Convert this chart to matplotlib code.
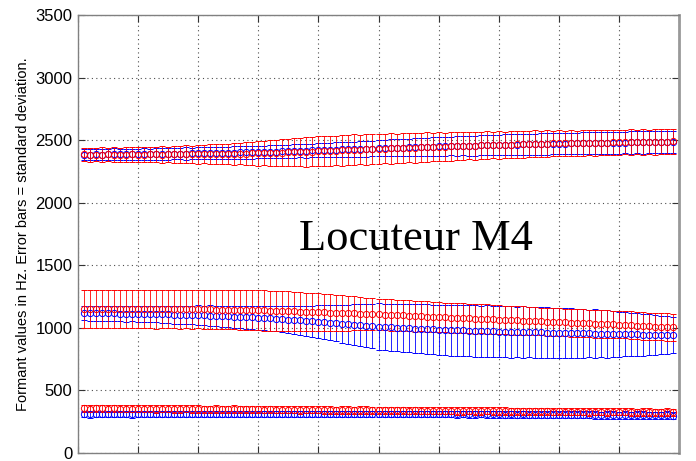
import numpy as np
import matplotlib
matplotlib.use("Agg")
import matplotlib.pyplot as plt

plt.rcParams['font.family'] = ['Liberation Sans', 'DejaVu Sans']

frames = list(range(1, 100))

# Formant 3 (top band)
f3_blue_mean = [2385, 2384, 2386, 2385, 2386, 2387, 2386, 2387, 2388, 2388,
                2389, 2389, 2390, 2391, 2391, 2392, 2393, 2393, 2394, 2395,
                2396, 2397, 2398, 2399, 2400, 2401, 2402, 2403, 2404, 2405,
                2406, 2408, 2409, 2411, 2412, 2414, 2415, 2417, 2418, 2420,
                2421, 2423, 2424, 2426, 2427, 2429, 2430, 2432, 2433, 2435,
                2437, 2438, 2440, 2441, 2443, 2444, 2446, 2447, 2449, 2450,
                2451, 2453, 2454, 2455, 2456, 2457, 2459, 2460, 2461, 2462,
                2463, 2464, 2465, 2466, 2467, 2468, 2469, 2470, 2471, 2472,
                2473, 2474, 2474, 2475, 2476, 2477, 2477, 2478, 2479, 2480,
                2481, 2482, 2482, 2483, 2484, 2485, 2486, 2487, 2488]
f3_blue_std = [44, 46, 45, 43, 45, 47, 44, 46, 45, 45,
               46, 44, 47, 46, 48, 45, 47, 49, 46, 48,
               47, 49, 48, 50, 47, 51, 49, 50, 52, 50,
               51, 53, 50, 54, 52, 55, 53, 56, 54, 55,
               57, 56, 59, 58, 61, 60, 62, 64, 63, 65,
               66, 68, 67, 70, 69, 71, 73, 72, 74, 75,
               76, 75, 78, 77, 79, 80, 79, 81, 82, 82,
               83, 82, 84, 83, 85, 84, 86, 85, 84, 85,
               86, 87, 85, 87, 88, 86, 88, 87, 89, 88,
               87, 89, 88, 90, 87, 89, 88, 89, 88]
f3_red_mean = [2386, 2385, 2384, 2385, 2386, 2385, 2384, 2385, 2386, 2385,
               2385, 2386, 2386, 2385, 2386, 2387, 2387, 2388, 2387, 2388,
               2389, 2389, 2390, 2390, 2391, 2392, 2392, 2393, 2394, 2395,
               2396, 2397, 2399, 2400, 2402, 2403, 2405, 2406, 2408, 2410,
               2412, 2414, 2416, 2418, 2420, 2422, 2424, 2426, 2428, 2430,
               2432, 2434, 2436, 2438, 2440, 2441, 2443, 2445, 2446, 2448,
               2449, 2451, 2452, 2454, 2455, 2456, 2458, 2459, 2461, 2462,
               2463, 2465, 2466, 2467, 2468, 2470, 2471, 2472, 2474, 2475,
               2476, 2477, 2477, 2478, 2479, 2480, 2481, 2481, 2482, 2483,
               2484, 2484, 2485, 2486, 2487, 2487, 2488, 2489, 2490]
f3_red_std = [54, 56, 53, 57, 55, 58, 56, 59, 57, 60,
              58, 62, 60, 65, 63, 68, 66, 72, 70, 75,
              74, 79, 77, 83, 81, 88, 86, 93, 91, 100,
              98, 104, 102, 109, 106, 113, 110, 117, 115, 120,
              118, 123, 116, 121, 119, 124, 117, 122, 118, 120,
              117, 121, 115, 119, 116, 120, 114, 118, 113, 115,
              112, 116, 110, 114, 109, 113, 108, 112, 107, 110,
              106, 110, 105, 109, 104, 108, 103, 107, 102, 105,
              101, 105, 100, 104, 99, 103, 98, 102, 99, 100,
              98, 102, 99, 101, 98, 102, 99, 101, 100]

# Formant 2 (middle band)
f2_blue_mean = [1118, 1117, 1117, 1116, 1116, 1115, 1114, 1114, 1113, 1112,
                1111, 1110, 1109, 1108, 1107, 1106, 1105, 1103, 1102, 1100,
                1099, 1097, 1095, 1093, 1091, 1089, 1087, 1085, 1083, 1080,
                1078, 1075, 1072, 1069, 1066, 1063, 1060, 1057, 1054, 1050,
                1046, 1042, 1038, 1034, 1030, 1026, 1022, 1018, 1014, 1010,
                1007, 1004, 1001, 999, 996, 994, 992, 990, 987, 985,
                983, 982, 980, 979, 977, 976, 974, 973, 971, 970,
                969, 968, 967, 966, 965, 964, 963, 962, 961, 960,
                959, 958, 957, 956, 955, 954, 953, 952, 951, 950,
                949, 948, 947, 946, 945, 944, 943, 942, 941]
f2_blue_std = [58, 61, 59, 62, 60, 63, 61, 64, 62, 65,
               64, 67, 66, 70, 68, 72, 71, 75, 74, 80,
               78, 82, 80, 85, 83, 88, 86, 91, 89, 95,
               96, 101, 100, 106, 107, 113, 115, 121, 124, 130,
               134, 141, 145, 152, 156, 163, 167, 174, 178, 185,
               186, 190, 189, 193, 192, 196, 195, 199, 198, 200,
               199, 203, 201, 205, 202, 206, 203, 207, 204, 205,
               203, 207, 202, 206, 201, 205, 200, 204, 199, 200,
               197, 199, 194, 196, 191, 193, 188, 189, 184, 180,
               177, 174, 170, 167, 163, 159, 155, 150, 145]
f2_red_mean = [1150, 1151, 1150, 1151, 1150, 1150, 1151, 1150, 1150, 1150,
               1150, 1150, 1149, 1150, 1149, 1149, 1148, 1149, 1148, 1148,
               1147, 1147, 1146, 1146, 1145, 1144, 1143, 1142, 1141, 1140,
               1139, 1137, 1136, 1134, 1133, 1131, 1130, 1128, 1127, 1125,
               1123, 1122, 1120, 1118, 1117, 1115, 1113, 1111, 1110, 1108,
               1106, 1104, 1101, 1099, 1097, 1094, 1092, 1090, 1087, 1085,
               1083, 1081, 1079, 1077, 1075, 1073, 1071, 1069, 1067, 1065,
               1063, 1061, 1059, 1057, 1055, 1053, 1051, 1049, 1047, 1045,
               1043, 1041, 1039, 1037, 1035, 1033, 1031, 1029, 1027, 1025,
               1023, 1020, 1018, 1015, 1013, 1010, 1008, 1005, 1003]
f2_red_std = [152, 154, 153, 155, 152, 154, 153, 155, 152, 153,
              154, 152, 155, 153, 154, 152, 155, 153, 154, 153,
              155, 154, 156, 157, 158, 157, 159, 160, 159, 160,
              161, 159, 160, 158, 159, 156, 157, 154, 155, 152,
              150, 147, 145, 142, 139, 136, 133, 130, 128, 125,
              124, 126, 123, 125, 122, 124, 121, 123, 120, 121,
              119, 121, 118, 120, 117, 119, 116, 118, 115, 116,
              114, 116, 113, 115, 112, 114, 111, 113, 111, 112,
              110, 113, 109, 112, 110, 111, 109, 112, 109, 110,
              108, 111, 107, 110, 108, 109, 107, 110, 108]

# Formant 1 (bottom band)
f1_blue_mean = [310, 309, 311, 310, 309, 310, 311, 310, 309, 310,
                311, 310, 310, 311, 310, 309, 310, 311, 310, 310,
                311, 310, 311, 312, 311, 312, 311, 312, 313, 312,
                313, 312, 313, 314, 313, 314, 313, 314, 313, 314,
                313, 314, 313, 314, 313, 312, 313, 312, 313, 312,
                311, 312, 311, 312, 311, 310, 311, 310, 311, 310,
                309, 310, 309, 310, 309, 308, 309, 308, 309, 308,
                307, 308, 307, 308, 307, 306, 307, 306, 305, 306,
                305, 306, 305, 304, 305, 304, 303, 304, 303, 302,
                303, 302, 301, 302, 301, 300, 301, 300, 299]
f1_blue_std = [24, 26, 25, 23, 25, 26, 24, 25, 26, 24,
               25, 24, 26, 25, 23, 25, 26, 24, 25, 26,
               24, 25, 26, 25, 24, 26, 25, 24, 25, 26,
               25, 24, 26, 25, 24, 25, 26, 24, 25, 24,
               26, 25, 24, 25, 26, 24, 25, 26, 25, 24,
               25, 26, 24, 25, 26, 25, 24, 26, 25, 26,
               25, 24, 26, 25, 27, 26, 25, 27, 26, 25,
               27, 26, 25, 27, 26, 28, 27, 26, 28, 27,
               28, 27, 29, 28, 27, 29, 28, 30, 29, 28,
               30, 29, 31, 30, 29, 31, 30, 32, 31]
f1_red_mean = [356, 355, 357, 356, 355, 356, 355, 354, 355, 354,
               355, 354, 353, 354, 353, 352, 353, 352, 351, 352,
               351, 350, 351, 350, 349, 350, 349, 348, 349, 348,
               347, 348, 347, 346, 347, 346, 345, 346, 345, 344,
               345, 344, 343, 344, 343, 342, 343, 342, 341, 342,
               341, 340, 341, 340, 339, 340, 339, 338, 339, 338,
               337, 338, 337, 336, 337, 336, 335, 336, 335, 334,
               335, 334, 333, 334, 333, 332, 333, 332, 331, 332,
               331, 330, 331, 330, 329, 330, 329, 328, 329, 328,
               329, 328, 327, 328, 327, 326, 327, 326, 325]
f1_red_std = [28, 30, 29, 27, 29, 30, 28, 29, 30, 28,
              29, 28, 30, 29, 27, 29, 30, 28, 29, 30,
              28, 29, 30, 29, 28, 30, 29, 28, 29, 30,
              29, 28, 30, 29, 28, 29, 30, 28, 29, 28,
              30, 29, 28, 29, 30, 28, 29, 30, 29, 28,
              29, 30, 28, 29, 30, 29, 28, 30, 29, 30,
              29, 28, 30, 29, 28, 30, 29, 28, 29, 30,
              29, 28, 30, 29, 28, 29, 30, 28, 29, 28,
              30, 29, 28, 29, 30, 28, 29, 30, 29, 28,
              29, 30, 28, 29, 30, 29, 28, 30, 29]

x_ticks = list(range(0, 101, 10))
y_ticks = list(range(0, 3501, 500))
y_label = "Formant values in Hz. Error bars = standard deviation."
title_text = "Locuteur M4"

fig = plt.figure(figsize=(6.96, 4.61), dpi=100)
ax = fig.add_axes([78/696, 1 - 453/461, (679 - 78)/696, (453 - 15)/461])

series = [
    (f3_blue_mean, f3_blue_std, '#0000ff'),
    (f2_blue_mean, f2_blue_std, '#0000ff'),
    (f1_blue_mean, f1_blue_std, '#0000ff'),
    (f3_red_mean, f3_red_std, '#ff0000'),
    (f2_red_mean, f2_red_std, '#ff0000'),
    (f1_red_mean, f1_red_std, '#ff0000'),
]
for m, s, c in series:
    ax.errorbar(frames, m, yerr=s, fmt='o', color=c, mfc='none', mec=c,
                ms=4.5, mew=0.7, elinewidth=0.6, capsize=2.4, capthick=0.8)

ax.set_xlim(0, 100)
ax.set_ylim(0, 3500)
ax.set_xticks(x_ticks)
ax.set_yticks(y_ticks)
ax.tick_params(direction='in', top=True, right=True, length=5, width=0.8,
               color='0.2', labelsize=12, pad=4)
ax.tick_params(axis='x', pad=5.5)
ax.grid(True, linestyle=(0, (1, 3)), color='0.3', linewidth=0.8)
ax.set_axisbelow(True)
for side in ['left', 'bottom', 'top']:
    ax.spines[side].set_color('0.5')
    ax.spines[side].set_linewidth(1.0)
ax.spines['right'].set_color('0.6')
ax.spines['right'].set_linewidth(2.0)

ax.set_ylabel(y_label, fontsize=10.5, labelpad=4)
ax.text(36.7, 1624, title_text, fontsize=32, family=['Liberation Serif', 'DejaVu Serif'],
        ha='left', va='baseline')

fig.savefig('out.png', dpi=100)
